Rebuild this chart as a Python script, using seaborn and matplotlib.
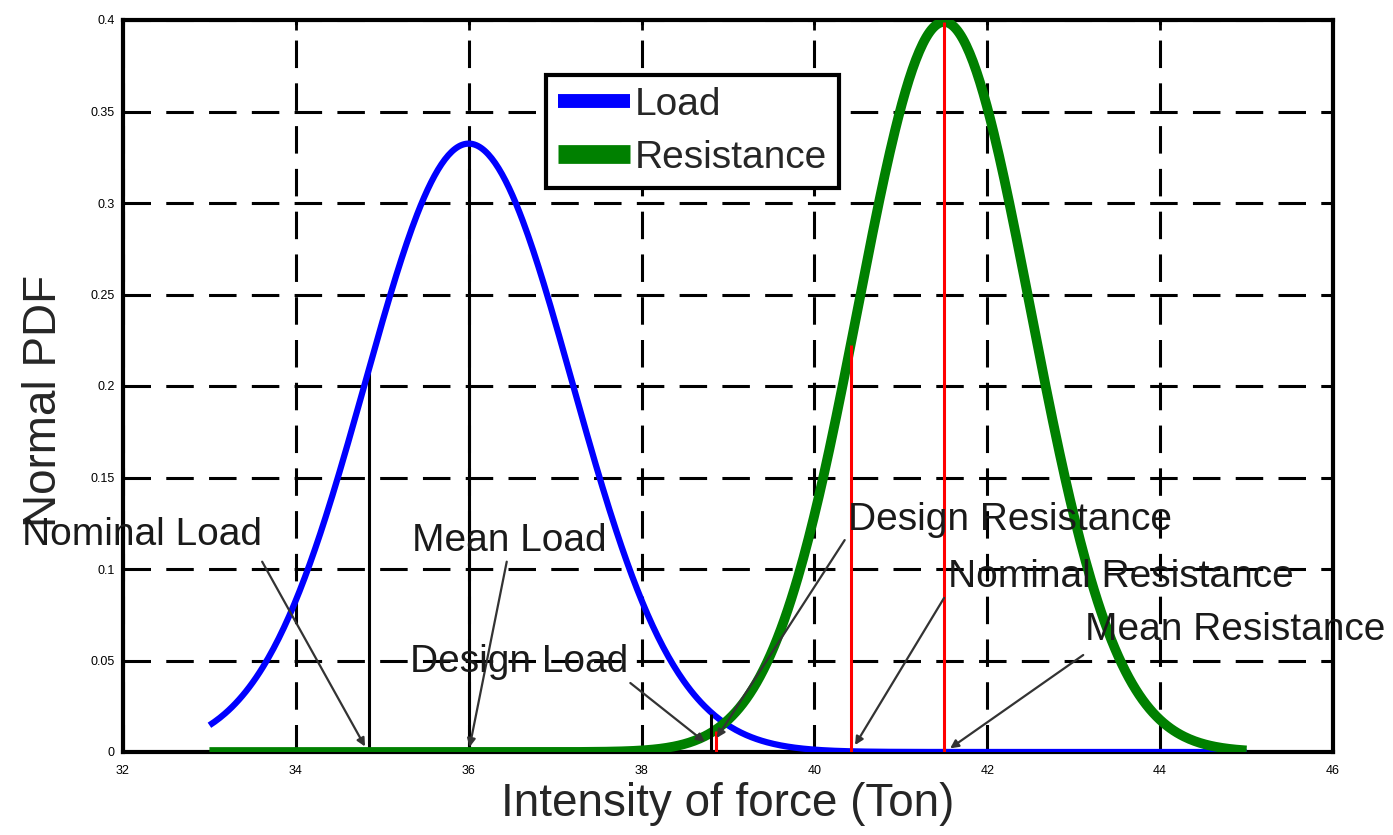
import numpy as np
import pandas as pd
import matplotlib
matplotlib.use("Agg")
import matplotlib.pyplot as plt
from matplotlib.lines import Line2D
import seaborn as sns

# Distribution parameters (Ton)
load_mean, load_sd = 36.0, 1.2
res_mean, res_sd = 41.5, 1.0
x_start, x_end = 33.0, 45.0

# Characteristic values (Ton)
nominal_load = 34.85
design_load = 38.83
design_resistance = 40.42
nominal_resistance = 41.5

x_ticks = [32, 34, 36, 38, 40, 42, 44, 46]
y_ticks = [0, 0.05, 0.1, 0.15, 0.2, 0.25, 0.3, 0.35, 0.4]
y_tick_labels = ["0", "0.05", "0.1", "0.15", "0.2", "0.25", "0.3", "0.35", "0.4"]

# Callout labels: text anchor (x, y) and arrow start/end points
label_names = ["Nominal Load", "Mean Load", "Design Load",
               "Design Resistance", "Nominal Resistance", "Mean Resistance"]
label_pos = [(30.83, 0.113), (35.34, 0.110), (35.32, 0.0437),
             (40.39, 0.1213), (41.55, 0.090), (43.13, 0.0612)]
arrow_from = [(33.61, 0.104), (36.44, 0.104), (37.87, 0.0377),
              (40.35, 0.1158), (41.50, 0.0842), (43.11, 0.053)]
arrow_to = [(34.80, 0.003), (36.01, 0.0027), (38.73, 0.0055),
            (38.87, 0.0077), (40.47, 0.0038), (41.57, 0.002)]


def normal_pdf(x, mu, sd):
    return np.exp(-0.5 * ((x - mu) / sd) ** 2) / (sd * np.sqrt(2 * np.pi))


xs = np.linspace(x_start, x_end, 600)
df = pd.DataFrame({
    "force": np.concatenate([xs, xs]),
    "pdf": np.concatenate([normal_pdf(xs, load_mean, load_sd),
                           normal_pdf(xs, res_mean, res_sd)]),
    "series": ["Load"] * len(xs) + ["Resistance"] * len(xs),
})

sns.set_style("white")
plt.rcParams["font.family"] = ["Liberation Sans", "DejaVu Sans"]

fig = plt.figure(figsize=(13.93, 8.35), dpi=100)
ax = fig.add_axes([123 / 1393, (835 - 752) / 835, 1210 / 1393, 732 / 835])

sns.lineplot(data=df[df.series == "Load"], x="force", y="pdf", ax=ax,
             color="#0000ff", lw=4.5, zorder=3, legend=False,
             solid_capstyle="butt")
sns.lineplot(data=df[df.series == "Resistance"], x="force", y="pdf", ax=ax,
             color="#008000", lw=7, zorder=4, legend=False,
             solid_capstyle="butt")

# Vertical markers up to the density curves
lw_v = 2.2
ax.vlines(nominal_load, 0, normal_pdf(nominal_load, load_mean, load_sd),
          color="black", lw=lw_v, zorder=2.8)
ax.vlines(load_mean, 0, normal_pdf(load_mean, load_mean, load_sd),
          color="black", lw=lw_v, zorder=2.8)
ax.vlines(design_load - 0.03, 0, normal_pdf(design_load, load_mean, load_sd),
          color="black", lw=lw_v, zorder=5)
ax.vlines(design_load + 0.03, 0, normal_pdf(design_load, res_mean, res_sd),
          color="#ff0000", lw=lw_v, zorder=5)
ax.vlines(design_resistance, 0, normal_pdf(design_resistance, res_mean, res_sd),
          color="#ff0000", lw=lw_v, zorder=5)
ax.vlines(nominal_resistance, 0, normal_pdf(nominal_resistance, res_mean, res_sd),
          color="#ff0000", lw=lw_v, zorder=5)

# Callouts
for name, pos, a0, a1 in zip(label_names, label_pos, arrow_from, arrow_to):
    ax.text(pos[0], pos[1], name, fontsize=28, color="#1a1a1a",
            ha="left", va="baseline", zorder=6, clip_on=False)
    ax.annotate("", xy=a1, xytext=a0, annotation_clip=False,
                arrowprops=dict(arrowstyle="-|>", color="#333333", lw=1.6,
                                mutation_scale=12, shrinkA=0, shrinkB=0),
                zorder=6)

ax.set_xlim(32, 46)
ax.set_ylim(0, 0.4)
ax.set_xticks(x_ticks)
ax.set_xticklabels([str(t) for t in x_ticks])
ax.set_yticks(y_ticks)
ax.set_yticklabels(y_tick_labels)
ax.tick_params(direction="in", length=7, width=2, top=True, right=True,
               labelsize=9, colors="black")
ax.tick_params(axis="x", pad=9)
ax.tick_params(axis="y", pad=6)

ax.grid(True, color="black", linestyle=(0, (9, 5)), linewidth=2.2)
for sp in ax.spines.values():
    sp.set_visible(True)
    sp.set_color("black")
    sp.set_linewidth(3)

ax.set_xlabel("Intensity of force (Ton)", fontsize=33, labelpad=4)
ax.set_ylabel("Normal PDF", fontsize=33)
ax.yaxis.set_label_coords(-0.047, 0.48)

handles = [Line2D([], [], color="#0000ff", lw=10, solid_capstyle="butt"),
           Line2D([], [], color="#008000", lw=13.5, solid_capstyle="butt")]
leg = ax.legend(handles, ["Load", "Resistance"], loc="upper left",
                bbox_to_anchor=(0.350, 0.925), borderaxespad=0,
                fontsize=28, handlelength=1.85, handletextpad=0.12,
                labelspacing=0.45, borderpad=0.3, fancybox=False,
                framealpha=1, edgecolor="black")
leg.get_frame().set_linewidth(3)
leg.set_zorder(7)

fig.savefig("out.png", dpi=100)
